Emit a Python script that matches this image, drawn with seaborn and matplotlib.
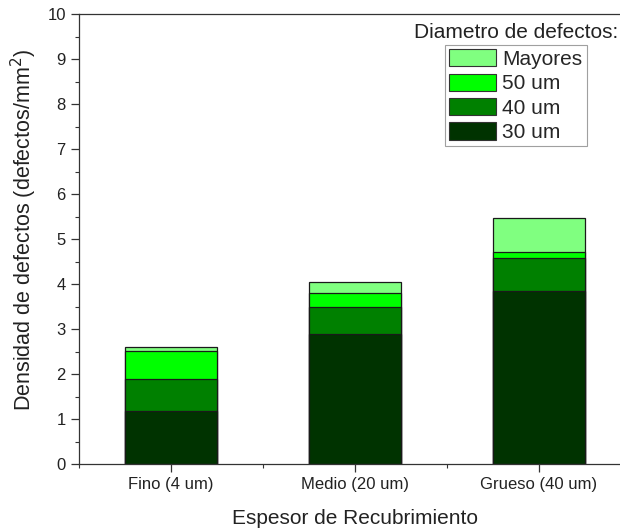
import matplotlib
matplotlib.use("Agg")
import matplotlib.pyplot as plt
import seaborn as sns
import pandas as pd
import numpy as np
from matplotlib.patches import Patch
from matplotlib.ticker import MultipleLocator

categories = ["Fino (4 um)", "Medio (20 um)", "Grueso (40 um)"]
d30 = [1.18, 2.88, 3.85]
d40 = [0.70, 0.60, 0.73]
d50 = [0.63, 0.31, 0.13]
mayores = [0.10, 0.25, 0.76]
series_names = ["30 um", "40 um", "50 um", "Mayores"]
colors = {"30 um": "#003300", "40 um": "#008000", "50 um": "#00ff00", "Mayores": "#80ff80"}

sns.set_theme(style="white")
plt.rcParams['font.family'] = ['Liberation Sans', 'DejaVu Sans']

fig = plt.figure(figsize=(6.2, 5.31), dpi=100)
ax = fig.add_axes([79/620, 1-464/531, (631-79)/620, (464-14)/531])

vals = [d30, d40, d50, mayores]
cum = np.cumsum(np.array(vals), axis=0)
# draw from top (total) down to bottom so lower segments overlay
for i in range(len(series_names) - 1, -1, -1):
    df = pd.DataFrame({"cat": categories, "val": cum[i]})
    sns.barplot(data=df, x="cat", y="val", color=colors[series_names[i]],
                width=0.5, edgecolor="#1a1a1a", linewidth=0.9, saturation=1, ax=ax)

ax.set_xlim(-0.5, 2.5)
ax.set_ylim(0, 10)
ax.yaxis.set_major_locator(MultipleLocator(1))
ax.yaxis.set_minor_locator(MultipleLocator(0.5))
ax.xaxis.set_minor_locator(MultipleLocator(1, offset=0.5))
ax.tick_params(axis='both', which='major', direction='out', length=6, width=0.9,
               color='#333333', labelsize=12, labelcolor='#222222', left=True, bottom=True)
ax.tick_params(axis='both', which='minor', direction='out', length=3, width=0.8,
               color='#333333', left=True, bottom=True)
for s in ax.spines.values():
    s.set_color('#333333')
    s.set_linewidth(0.9)

ax.set_xlabel("Espesor de Recubrimiento", fontsize=15, color='#222222', labelpad=12)
ax.set_ylabel("Densidad de defectos (defectos/mm$^2$)", fontsize=15.5, color='#222222')
ax.yaxis.set_label_coords(-0.072, 0.52)

handles = [Patch(facecolor=colors[n], edgecolor='#333333', linewidth=0.8, label=n)
           for n in ["Mayores", "50 um", "40 um", "30 um"]]
leg = fig.legend(handles=handles, loc='upper left', bbox_to_anchor=(445/620, 1-45/531),
                 fontsize=15, frameon=True, fancybox=False, edgecolor='#888888',
                 handlelength=2.25, handleheight=0.9, handletextpad=0.3, labelspacing=0.22,
                 borderpad=0.2, borderaxespad=0)
leg.get_frame().set_linewidth(0.8)
fig.text(618/620, 1-32/531, "Diametro de defectos:", ha='right', va='center', fontsize=15, color='#222222')

fig.savefig("out.png", dpi=100)
